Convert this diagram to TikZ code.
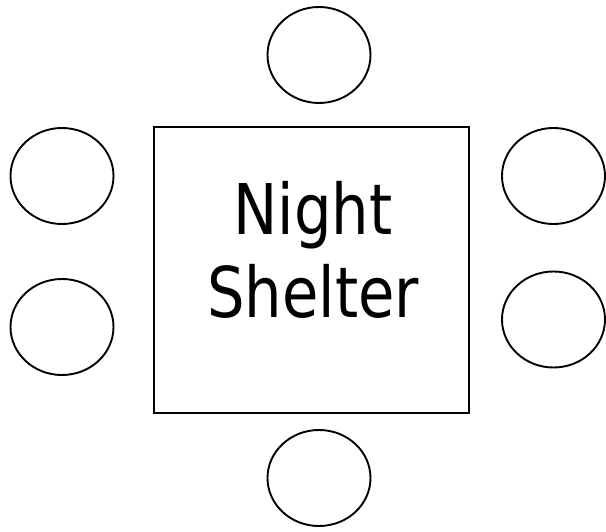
\documentclass[tikz,border=0pt]{standalone}
\usepackage{fontspec}
\newfontfamily\labelfont[FakeStretch=0.845]{DejaVu Sans}
\usetikzlibrary{shapes.geometric}
\begin{document}
\begin{tikzpicture}[x=1pt,y=-1pt,
  seat/.style={draw, line width=1.9pt, ellipse, inner sep=0pt, minimum width=103pt, minimum height=96pt},
  shelterbox/.style={draw, line width=2.2pt, rectangle, inner sep=0pt, minimum width=315pt, minimum height=286pt},
  bigtext/.style={font=\labelfont\fontsize{70}{83}\selectfont, align=center, inner sep=0pt}]
\useasboundingbox (0,0) rectangle (606,532);
\node[shelterbox] (shelter) at (311.75,270) {};
\node[bigtext, anchor=base] (title) at (313,317) {Night\\Shelter};
\node[seat] (top) at (319,55) {};
\node[seat] (bottom) at (319,478) {};
\node[seat] (leftup) at (62,176) {};
\node[seat] (leftdown) at (62,327) {};
\node[seat] (rightup) at (553.5,176) {};
\node[seat] (rightdown) at (553.5,319.5) {};
\end{tikzpicture}
\end{document}
